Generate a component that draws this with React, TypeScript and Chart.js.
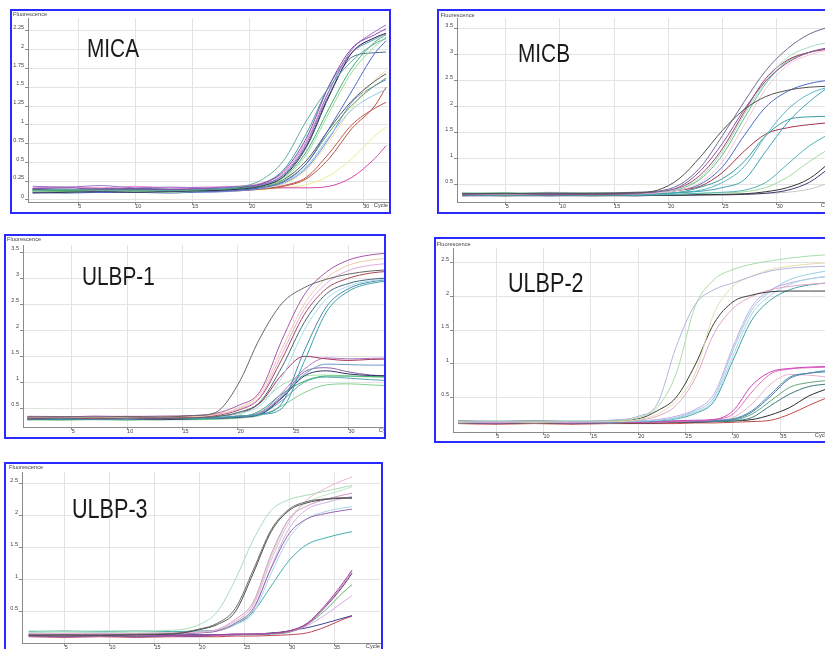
import React, { useEffect, useRef } from 'react';
import { Chart, registerables } from 'chart.js';

Chart.register(...registerables);

// ---------------- DATA ----------------
const cycleTicks = [5, 10, 15, 20, 25, 30, 35];

// MICA
const micaCycles = [1, 4, 7, 10, 13, 16, 19, 21, 23, 25, 27, 29, 31, 32];
const micaYTicks = [0, 0.25, 0.5, 0.75, 1, 1.25, 1.5, 1.75, 2, 2.25];
const micaSeries = [
  [0.12, 0.14, 0.12, 0.13, 0.12, 0.14, 0.17, 0.26, 0.52, 1.05, 1.5, 1.85, 2.08, 2.15],
  [0.15, 0.16, 0.14, 0.15, 0.14, 0.15, 0.17, 0.21, 0.38, 0.82, 1.52, 2.02, 2.2, 2.28],
  [0.18, 0.17, 0.19, 0.16, 0.17, 0.16, 0.18, 0.2, 0.34, 0.75, 1.45, 2.0, 2.24, 2.33],
  [0.09, 0.1, 0.11, 0.1, 0.11, 0.12, 0.14, 0.18, 0.31, 0.7, 1.38, 1.96, 2.16, 2.22],
  [0.13, 0.12, 0.14, 0.12, 0.13, 0.12, 0.15, 0.19, 0.3, 0.64, 1.22, 1.76, 2.1, 2.2],
  [0.11, 0.1, 0.12, 0.11, 0.1, 0.12, 0.14, 0.18, 0.28, 0.6, 1.16, 1.7, 2.04, 2.17],
  [0.1, 0.09, 0.1, 0.1, 0.09, 0.11, 0.13, 0.16, 0.24, 0.48, 0.95, 1.45, 1.95, 2.12],
  [0.16, 0.17, 0.16, 0.18, 0.16, 0.17, 0.18, 0.22, 0.36, 0.78, 1.46, 1.96, 2.16, 2.21],
  [0.14, 0.13, 0.15, 0.14, 0.13, 0.14, 0.16, 0.2, 0.33, 0.72, 1.4, 1.9, 1.96, 1.97],
  [0.15, 0.14, 0.13, 0.15, 0.14, 0.13, 0.16, 0.21, 0.4, 0.88, 1.52, 1.96, 2.14, 2.22],
  [0.14, 0.13, 0.12, 0.14, 0.13, 0.14, 0.15, 0.18, 0.27, 0.52, 0.94, 1.32, 1.58, 1.68],
  [0.12, 0.11, 0.13, 0.12, 0.11, 0.13, 0.14, 0.17, 0.25, 0.48, 0.9, 1.26, 1.52, 1.62],
  [0.13, 0.14, 0.12, 0.13, 0.14, 0.12, 0.14, 0.16, 0.23, 0.44, 0.84, 1.2, 1.4, 1.47],
  [0.12, 0.13, 0.12, 0.11, 0.12, 0.13, 0.14, 0.16, 0.21, 0.4, 0.78, 1.22, 1.6, 1.72],
  [0.1, 0.11, 0.1, 0.12, 0.11, 0.1, 0.12, 0.15, 0.22, 0.42, 0.82, 1.3, 1.52, 1.6],
  [0.12, 0.11, 0.12, 0.13, 0.12, 0.13, 0.13, 0.15, 0.19, 0.3, 0.62, 1.0, 1.22, 1.3],
  [0.1, 0.11, 0.1, 0.11, 0.1, 0.11, 0.12, 0.14, 0.18, 0.28, 0.55, 0.95, 1.25, 1.5],
  [0.14, 0.13, 0.14, 0.15, 0.14, 0.15, 0.15, 0.16, 0.16, 0.16, 0.18, 0.3, 0.55, 0.72],
  [0.13, 0.12, 0.13, 0.12, 0.13, 0.12, 0.13, 0.14, 0.16, 0.2, 0.32, 0.55, 0.85, 0.97],
];
const micaColors = ['#63aaa2', '#8a47ad', '#9a70cf', '#2f2f5f', '#3fb070', '#9bdc9b', '#4b68c4', '#e28ccb', '#4c6b8a', '#3ba5a5', '#555555', '#5ca35c', '#8ec9e8', '#f0dea6', '#7088de', '#c2524e', '#b3563f', '#d445a8', '#eaed8c'];

// MICB
const micbCycles = [1, 5, 9, 13, 17, 19, 21, 23, 25, 27, 29, 31, 33, 35];
const micbYTicks = [0.5, 1, 1.5, 2, 2.5, 3, 3.5];
const micbSeries = [
  [0.33, 0.34, 0.33, 0.34, 0.35, 0.4, 0.62, 1.05, 1.55, 1.95, 2.2, 2.32, 2.38, 2.4],
  [0.34, 0.33, 0.35, 0.34, 0.36, 0.38, 0.5, 0.85, 1.45, 2.1, 2.7, 3.12, 3.4, 3.55],
  [0.32, 0.33, 0.32, 0.33, 0.34, 0.37, 0.46, 0.78, 1.3, 1.95, 2.5, 2.85, 3.05, 3.15],
  [0.35, 0.34, 0.36, 0.35, 0.36, 0.37, 0.43, 0.65, 1.15, 1.85, 2.5, 2.95, 3.15, 3.25],
  [0.33, 0.32, 0.33, 0.34, 0.33, 0.35, 0.4, 0.55, 0.95, 1.65, 2.35, 2.8, 3.0, 3.1],
  [0.31, 0.32, 0.31, 0.32, 0.33, 0.36, 0.44, 0.7, 1.2, 1.9, 2.55, 2.9, 3.05, 3.12],
  [0.34, 0.35, 0.33, 0.34, 0.35, 0.36, 0.42, 0.62, 1.08, 1.78, 2.45, 2.88, 3.05, 3.14],
  [0.3, 0.31, 0.3, 0.31, 0.32, 0.33, 0.35, 0.38, 0.45, 0.6, 1.15, 1.7, 2.1, 2.42],
  [0.32, 0.31, 0.32, 0.31, 0.32, 0.33, 0.36, 0.4, 0.55, 0.85, 1.45, 1.95, 2.25, 2.4],
  [0.31, 0.32, 0.31, 0.32, 0.31, 0.33, 0.36, 0.46, 0.62, 0.95, 1.45, 1.75, 1.81, 1.82],
  [0.33, 0.32, 0.33, 0.32, 0.33, 0.35, 0.4, 0.48, 0.74, 1.15, 1.48, 1.6, 1.66, 1.7],
  [0.3, 0.31, 0.3, 0.31, 0.3, 0.31, 0.32, 0.34, 0.36, 0.4, 0.55, 0.9, 1.25, 1.5],
  [0.32, 0.31, 0.32, 0.31, 0.32, 0.32, 0.33, 0.34, 0.35, 0.37, 0.45, 0.65, 0.95, 1.22],
  [0.3, 0.29, 0.3, 0.29, 0.3, 0.3, 0.31, 0.31, 0.32, 0.33, 0.37, 0.45, 0.62, 0.95],
  [0.29, 0.3, 0.29, 0.3, 0.29, 0.3, 0.3, 0.31, 0.31, 0.32, 0.34, 0.4, 0.55, 0.85],
  [0.31, 0.3, 0.31, 0.3, 0.31, 0.31, 0.31, 0.32, 0.32, 0.33, 0.34, 0.36, 0.42, 0.55],
  [0.33, 0.34, 0.33, 0.34, 0.34, 0.36, 0.4, 0.52, 0.85, 1.45, 2.0, 2.3, 2.45, 2.52],
];
const micbColors = ['#505050', '#6c6c90', '#8a50a8', '#a6dcc6', '#f2c6d6', '#a2425f', '#5fbf7e', '#40a0b2', '#58b5c2', '#3a9a9a', '#a3344c', '#55b4b4', '#a0da9f', '#343434', '#3b3b72', '#c8c8c8', '#4a6bc5'];

// ULBP-1
const ulbp1Cycles = [1, 4, 7, 10, 13, 16, 18, 20, 22, 24, 26, 28, 30, 32, 35];
const ulbp1YTicks = [0.5, 1, 1.5, 2, 2.5, 3, 3.5];
const ulbp1Series = [
  [0.33, 0.34, 0.33, 0.34, 0.33, 0.36, 0.42, 0.95, 1.85, 2.52, 2.82, 2.98, 3.08, 3.14, 3.18],
  [0.34, 0.33, 0.35, 0.34, 0.35, 0.36, 0.4, 0.55, 0.82, 1.82, 2.68, 3.12, 3.35, 3.45, 3.5],
  [0.32, 0.33, 0.32, 0.33, 0.34, 0.34, 0.38, 0.5, 0.78, 1.65, 2.5, 3.0, 3.25, 3.35, 3.4],
  [0.35, 0.34, 0.33, 0.35, 0.34, 0.35, 0.38, 0.48, 0.72, 1.55, 2.4, 2.9, 3.15, 3.25, 3.3],
  [0.31, 0.32, 0.31, 0.32, 0.31, 0.33, 0.36, 0.46, 0.7, 1.45, 2.3, 2.8, 3.0, 3.1, 3.15],
  [0.3, 0.31, 0.3, 0.31, 0.3, 0.32, 0.34, 0.42, 0.62, 1.3, 2.15, 2.7, 2.9, 2.98, 3.02],
  [0.32, 0.31, 0.32, 0.3, 0.32, 0.33, 0.35, 0.4, 0.55, 1.1, 2.0, 2.6, 2.85, 2.95, 3.0],
  [0.3, 0.29, 0.3, 0.31, 0.3, 0.3, 0.32, 0.35, 0.38, 0.5, 1.4, 2.35, 2.75, 2.9, 2.97],
  [0.29, 0.3, 0.29, 0.3, 0.31, 0.3, 0.31, 0.34, 0.38, 0.6, 1.6, 2.45, 2.8, 2.93, 3.0],
  [0.33, 0.32, 0.33, 0.32, 0.33, 0.33, 0.35, 0.4, 0.6, 1.15, 1.5, 1.45, 1.42, 1.44, 1.45],
  [0.31, 0.3, 0.31, 0.3, 0.31, 0.31, 0.32, 0.35, 0.42, 0.8, 1.25, 1.47, 1.45, 1.46, 1.47],
  [0.3, 0.31, 0.3, 0.29, 0.3, 0.31, 0.32, 0.34, 0.4, 0.75, 1.15, 1.35, 1.34, 1.33, 1.33],
  [0.28, 0.29, 0.3, 0.29, 0.28, 0.3, 0.31, 0.33, 0.38, 0.7, 1.12, 1.22, 1.16, 1.13, 1.12],
  [0.3, 0.3, 0.29, 0.3, 0.3, 0.3, 0.31, 0.33, 0.4, 0.72, 1.2, 1.28, 1.2, 1.14, 1.12],
  [0.29, 0.28, 0.29, 0.28, 0.29, 0.29, 0.3, 0.32, 0.45, 0.78, 1.02, 1.12, 1.12, 1.11, 1.1],
  [0.3, 0.29, 0.3, 0.29, 0.3, 0.3, 0.31, 0.36, 0.6, 0.95, 1.12, 1.14, 1.12, 1.1, 1.08],
  [0.28, 0.27, 0.28, 0.27, 0.28, 0.28, 0.29, 0.31, 0.36, 0.55, 0.8, 0.95, 0.97, 0.95, 0.92],
  [0.29, 0.3, 0.29, 0.3, 0.29, 0.29, 0.3, 0.32, 0.38, 0.65, 1.0, 1.1, 1.08, 1.05, 1.02],
];
const ulbp1Colors = ['#666666', '#a857a8', '#f0caa9', '#e2a9e2', '#a84858', '#406878', '#a8dde8', '#3fa3a3', '#4f86b3', '#a83252', '#a878c8', '#6a9ac8', '#30306a', '#8a64aa', '#3fb070', '#a6e3a6', '#80d090', '#56a6b8'];

// ULBP-2
const ulbp2Cycles = [1, 5, 9, 13, 17, 20, 22, 24, 26, 28, 30, 32, 34, 36, 38, 40];
const ulbp2YTicks = [0.5, 1, 1.5, 2, 2.5];
const ulbp2Series = [
  [0.15, 0.14, 0.15, 0.14, 0.16, 0.22, 0.4, 1.25, 1.88, 2.1, 2.2, 2.3, 2.38, 2.42, 2.44, 2.45],
  [0.14, 0.15, 0.14, 0.15, 0.15, 0.2, 0.35, 0.85, 1.85, 2.25, 2.4, 2.48, 2.53, 2.57, 2.6, 2.62],
  [0.13, 0.14, 0.13, 0.14, 0.14, 0.17, 0.25, 0.45, 0.85, 1.75, 2.15, 2.3, 2.4, 2.45, 2.48, 2.5],
  [0.15, 0.14, 0.15, 0.14, 0.15, 0.18, 0.3, 0.5, 0.98, 1.6, 1.92, 2.02, 2.07, 2.08, 2.08, 2.08],
  [0.14, 0.13, 0.14, 0.13, 0.14, 0.16, 0.22, 0.38, 0.78, 1.45, 1.82, 2.0, 2.1, 2.15, 2.18, 2.2],
  [0.14, 0.15, 0.14, 0.15, 0.14, 0.15, 0.16, 0.2, 0.3, 0.5, 1.2, 1.8, 2.08, 2.25, 2.33, 2.38],
  [0.15, 0.14, 0.15, 0.14, 0.15, 0.15, 0.16, 0.19, 0.28, 0.46, 1.12, 1.74, 2.02, 2.18, 2.26, 2.3],
  [0.13, 0.14, 0.13, 0.14, 0.13, 0.14, 0.15, 0.18, 0.26, 0.44, 1.05, 1.65, 1.95, 2.1, 2.17, 2.2],
  [0.14, 0.13, 0.14, 0.13, 0.14, 0.15, 0.17, 0.22, 0.32, 0.55, 1.25, 1.85, 2.1, 2.2, 2.26, 2.3],
  [0.13, 0.12, 0.13, 0.12, 0.13, 0.13, 0.14, 0.15, 0.16, 0.17, 0.3, 0.68, 0.88, 0.93, 0.95, 0.96],
  [0.12, 0.13, 0.12, 0.13, 0.12, 0.13, 0.13, 0.14, 0.15, 0.17, 0.25, 0.58, 0.85, 0.92, 0.94, 0.95],
  [0.14, 0.13, 0.14, 0.13, 0.14, 0.14, 0.14, 0.15, 0.15, 0.16, 0.18, 0.3, 0.55, 0.8, 0.86, 0.88],
  [0.12, 0.12, 0.13, 0.12, 0.12, 0.13, 0.13, 0.14, 0.14, 0.15, 0.17, 0.28, 0.52, 0.78, 0.86, 0.9],
  [0.13, 0.12, 0.13, 0.12, 0.13, 0.13, 0.14, 0.14, 0.15, 0.16, 0.2, 0.4, 0.7, 0.84, 0.83, 0.8],
  [0.12, 0.13, 0.12, 0.13, 0.12, 0.13, 0.13, 0.14, 0.14, 0.15, 0.16, 0.25, 0.45, 0.65, 0.72, 0.75],
  [0.13, 0.12, 0.13, 0.12, 0.13, 0.13, 0.13, 0.14, 0.14, 0.14, 0.15, 0.2, 0.38, 0.55, 0.66, 0.7],
  [0.12, 0.11, 0.12, 0.11, 0.12, 0.12, 0.12, 0.13, 0.13, 0.14, 0.15, 0.17, 0.24, 0.35, 0.52, 0.63],
  [0.11, 0.1, 0.11, 0.1, 0.11, 0.11, 0.11, 0.11, 0.12, 0.12, 0.13, 0.14, 0.16, 0.25, 0.38, 0.5],
];
const ulbp2Colors = ['#b2b6da', '#a9dca9', '#e8dcae', '#3c3c3c', '#e0a5c5', '#97cde6', '#a9d5ea', '#42a3a3', '#c5a9e4', '#d042c0', '#e072b2', '#4190a8', '#5271b8', '#e8b2ca', '#62a878', '#3a7a7a', '#2b2b2b', '#c24a4a'];

// ULBP-3
const ulbp3Cycles = [1, 5, 9, 13, 17, 20, 22, 24, 26, 28, 30, 32, 34, 36, 37];
const ulbp3YTicks = [0.5, 1, 1.5, 2, 2.5];
const ulbp3Series = [
  [0.2, 0.19, 0.2, 0.2, 0.21, 0.3, 0.5, 1.0, 1.62, 2.08, 2.25, 2.32, 2.38, 2.44, 2.47],
  [0.13, 0.14, 0.13, 0.14, 0.15, 0.22, 0.3, 0.5, 1.1, 1.75, 2.08, 2.2, 2.25, 2.27, 2.27],
  [0.14, 0.13, 0.14, 0.15, 0.16, 0.23, 0.32, 0.55, 1.15, 1.78, 2.1, 2.22, 2.26, 2.28, 2.28],
  [0.15, 0.16, 0.15, 0.16, 0.17, 0.18, 0.22, 0.35, 0.6, 1.3, 1.9, 2.25, 2.42, 2.55, 2.6],
  [0.16, 0.15, 0.16, 0.15, 0.16, 0.18, 0.22, 0.38, 0.65, 1.4, 1.95, 2.15, 2.25, 2.32, 2.35],
  [0.14, 0.15, 0.14, 0.15, 0.15, 0.17, 0.2, 0.32, 0.55, 1.18, 1.72, 1.95, 2.03, 2.08, 2.1],
  [0.17, 0.16, 0.17, 0.16, 0.17, 0.18, 0.2, 0.3, 0.48, 1.1, 1.65, 1.95, 2.06, 2.12, 2.14],
  [0.19, 0.2, 0.19, 0.2, 0.19, 0.2, 0.21, 0.3, 0.5, 0.9, 1.3, 1.55, 1.65, 1.72, 1.75],
  [0.18, 0.17, 0.18, 0.17, 0.18, 0.19, 0.22, 0.33, 0.62, 1.35, 1.95, 2.2, 2.32, 2.4, 2.45],
  [0.15, 0.14, 0.15, 0.14, 0.15, 0.17, 0.2, 0.3, 0.52, 1.2, 1.8, 2.1, 2.2, 2.27, 2.3],
  [0.13, 0.12, 0.13, 0.12, 0.13, 0.13, 0.14, 0.15, 0.15, 0.16, 0.2, 0.32, 0.6, 0.95, 1.15],
  [0.12, 0.13, 0.12, 0.13, 0.12, 0.13, 0.13, 0.14, 0.15, 0.16, 0.19, 0.3, 0.58, 0.92, 1.12],
  [0.14, 0.13, 0.14, 0.13, 0.14, 0.14, 0.14, 0.15, 0.15, 0.17, 0.2, 0.31, 0.57, 0.9, 1.1],
  [0.13, 0.12, 0.13, 0.12, 0.13, 0.13, 0.13, 0.14, 0.14, 0.15, 0.18, 0.3, 0.52, 0.8, 0.92],
  [0.14, 0.13, 0.14, 0.13, 0.14, 0.14, 0.14, 0.15, 0.15, 0.16, 0.18, 0.28, 0.45, 0.65, 0.75],
  [0.12, 0.11, 0.12, 0.11, 0.12, 0.12, 0.13, 0.14, 0.15, 0.16, 0.2, 0.25, 0.32, 0.4, 0.44],
  [0.11, 0.1, 0.11, 0.1, 0.11, 0.11, 0.11, 0.12, 0.12, 0.13, 0.14, 0.17, 0.26, 0.38, 0.43],
];
const ulbp3Colors = ['#a9dbb9', '#4e4e4e', '#6e6e6e', '#ebb5d5', '#d496c6', '#9466b4', '#a6d5e5', '#42b0b0', '#c2e5c2', '#c9b2e1', '#a242aa', '#d272b2', '#414162', '#62b072', '#d5aae5', '#414196', '#c2465a'];

// ---------------- LAYOUT ----------------
type Spec = {
  label: string;
  cycles: number[];
  series: number[][];
  colors: string[];
  yTicks: number[];
  box: number[]; // left, top, width, height (border box, page px)
  canvas: number[]; // width, height
  plot: number[]; // left, top, right, bottom in canvas px
  xRange: number[];
  yRange: number[];
  labelPos: number[]; // x, baseline, font size
  fluorPos: number[]; // x, y
};

const panels: Spec[] = [
  {
    label: 'MICA', cycles: micaCycles, series: micaSeries, colors: micaColors, yTicks: micaYTicks,
    box: [10, 9, 381, 205], canvas: [377, 201], plot: [16, 7, 376, 191],
    xRange: [0.59, 32.17], yRange: [-0.029, 2.423], labelPos: [75, 46, 26], fluorPos: [1, 3.5],
  },
  {
    label: 'MICB', cycles: micbCycles, series: micbSeries, colors: micbColors, yTicks: micbYTicks,
    box: [437, 9, 420, 205], canvas: [400, 201], plot: [18, 7, 396, 191],
    xRange: [0.51, 35.38], yRange: [0.173, 3.71], labelPos: [79, 51, 26], fluorPos: [1.5, 4],
  },
  {
    label: 'ULBP-1', cycles: ulbp1Cycles, series: ulbp1Series, colors: ulbp1Colors, yTicks: ulbp1YTicks,
    box: [4, 234, 382, 205], canvas: [392, 201], plot: [17, 9, 387, 191],
    xRange: [0.6, 34.02], yRange: [0.14, 3.64], labelPos: [76, 49, 26], fluorPos: [1, 3],
  },
  {
    label: 'ULBP-2', cycles: ulbp2Cycles, series: ulbp2Series, colors: ulbp2Colors, yTicks: ulbp2YTicks,
    box: [434, 237, 420, 206], canvas: [396, 202], plot: [17, 9, 393, 193],
    xRange: [0.44, 40.14], yRange: [-0.015, 2.72], labelPos: [72, 53, 27], fluorPos: [0.5, 5],
  },
  {
    label: 'ULBP-3', cycles: ulbp3Cycles, series: ulbp3Series, colors: ulbp3Colors, yTicks: ulbp3YTicks,
    box: [4, 462, 379, 200], canvas: [375, 196], plot: [16, 8, 374, 179],
    xRange: [0.25, 40.12], yRange: [0.012, 2.68], labelPos: [66, 54, 27], fluorPos: [3, 3],
  },
];

const SMALL_FONT = 'Liberation Sans';
const GRID = '#e3e3e3';
const AXIS = '#8a8a8a';

function makeTextPlugin(spec: Spec) {
  return {
    id: 'panelText',
    afterDraw(chart: any) {
      const ctx = chart.ctx as CanvasRenderingContext2D;
      const area = chart.chartArea;
      ctx.save();
      ctx.fillStyle = '#444';
      ctx.font = `5.7px "${SMALL_FONT}"`;
      ctx.textAlign = 'left';
      ctx.textBaseline = 'middle';
      ctx.fillText('Fluorescence', spec.fluorPos[0], spec.fluorPos[1]);
      ctx.textAlign = 'right';
      ctx.textBaseline = 'top';
      ctx.fillText('Cycle', area.right, area.bottom + 1);
      const [lx, ly, ls] = spec.labelPos;
      ctx.fillStyle = '#1a1a1a';
      ctx.font = `${ls}px "Liberation Sans"`;
      ctx.textAlign = 'left';
      ctx.textBaseline = 'alphabetic';
      ctx.translate(lx, ly);
      ctx.scale(0.8, 1);
      ctx.fillText(spec.label, 0, 0);
      ctx.restore();
    },
  };
}

function Panel({ spec }: { spec: Spec }) {
  const ref = useRef<HTMLCanvasElement | null>(null);
  useEffect(() => {
    const canvas = ref.current;
    if (!canvas) return;
    const [W, H] = spec.canvas;
    const [pl, pt, pr, pb] = spec.plot;
    const [xmin, xmax] = spec.xRange;
    const [ymin, ymax] = spec.yRange;
    const tickFont = { family: SMALL_FONT, size: 5.5 };
    const chart = new Chart(canvas, {
      type: 'line',
      data: {
        datasets: spec.series.map((vals, i) => ({
          data: vals.map((v, j) => ({ x: spec.cycles[j], y: v })),
          borderColor: spec.colors[i % spec.colors.length],
          backgroundColor: spec.colors[i % spec.colors.length],
          borderWidth: 1,
          pointRadius: 0,
          fill: false,
          cubicInterpolationMode: 'monotone',
          tension: 0.4,
        })),
      },
      options: {
        animation: false,
        responsive: false,
        maintainAspectRatio: false,
        devicePixelRatio: 1,
        events: [],
        layout: { padding: { left: 0, top: pt, right: W - pr, bottom: 0 } },
        plugins: {
          legend: { display: false },
          tooltip: { enabled: false },
          title: { display: false },
        },
        scales: {
          x: {
            type: 'linear',
            min: xmin,
            max: xmax,
            afterBuildTicks: (s: any) => {
              s.ticks = cycleTicks.filter((v) => v >= xmin && v <= xmax).map((v) => ({ value: v }));
            },
            afterFit: (s: any) => {
              s.height = H - pb;
              s.paddingLeft = 0; s.paddingRight = 0; s.paddingTop = 0; s.paddingBottom = 0;
            },
            grid: { color: GRID, lineWidth: 1, tickLength: 3, tickColor: AXIS, drawTicks: true },
            border: { color: AXIS, width: 1 },
            ticks: {
              align: 'start', padding: -2, font: tickFont, color: '#444',
              autoSkip: false, minRotation: 0, maxRotation: 0,
              callback: (v: any) => String(v),
            },
          },
          y: {
            type: 'linear',
            min: ymin,
            max: ymax,
            afterBuildTicks: (s: any) => {
              s.ticks = spec.yTicks.filter((v) => v >= ymin && v <= ymax).map((v) => ({ value: v }));
            },
            afterFit: (s: any) => {
              s.width = pl;
              s.paddingLeft = 0; s.paddingRight = 0; s.paddingTop = 0; s.paddingBottom = 0;
            },
            grid: { color: GRID, lineWidth: 1, tickLength: 3, tickColor: AXIS, drawTicks: true },
            border: { color: AXIS, width: 1 },
            ticks: {
              padding: 1, font: tickFont, color: '#444', autoSkip: false,
              callback: (v: any) => [String(v), ''],
            },
          },
        },
      } as any,
      plugins: [makeTextPlugin(spec)],
    });
    return () => chart.destroy();
  }, [spec]);

  const [bl, bt, bw, bh] = spec.box;
  const [W, H] = spec.canvas;
  return (
    <div
      style={{
        position: 'absolute', left: bl, top: bt, width: bw, height: bh,
        border: '2px solid #2a2aff', boxSizing: 'border-box', overflow: 'hidden', background: '#fff',
      }}
    >
      <canvas
        ref={ref}
        width={W}
        height={H}
        style={{ position: 'absolute', left: 0, top: 0, width: W, height: H, display: 'block' }}
      />
    </div>
  );
}

export default function App() {
  return (
    <div
      style={{
        position: 'absolute', left: 0, top: 0, width: 825, height: 649,
        overflow: 'hidden', background: '#fff',
      }}
    >
      {panels.map((p) => (
        <Panel key={p.label} spec={p} />
      ))}
    </div>
  );
}
